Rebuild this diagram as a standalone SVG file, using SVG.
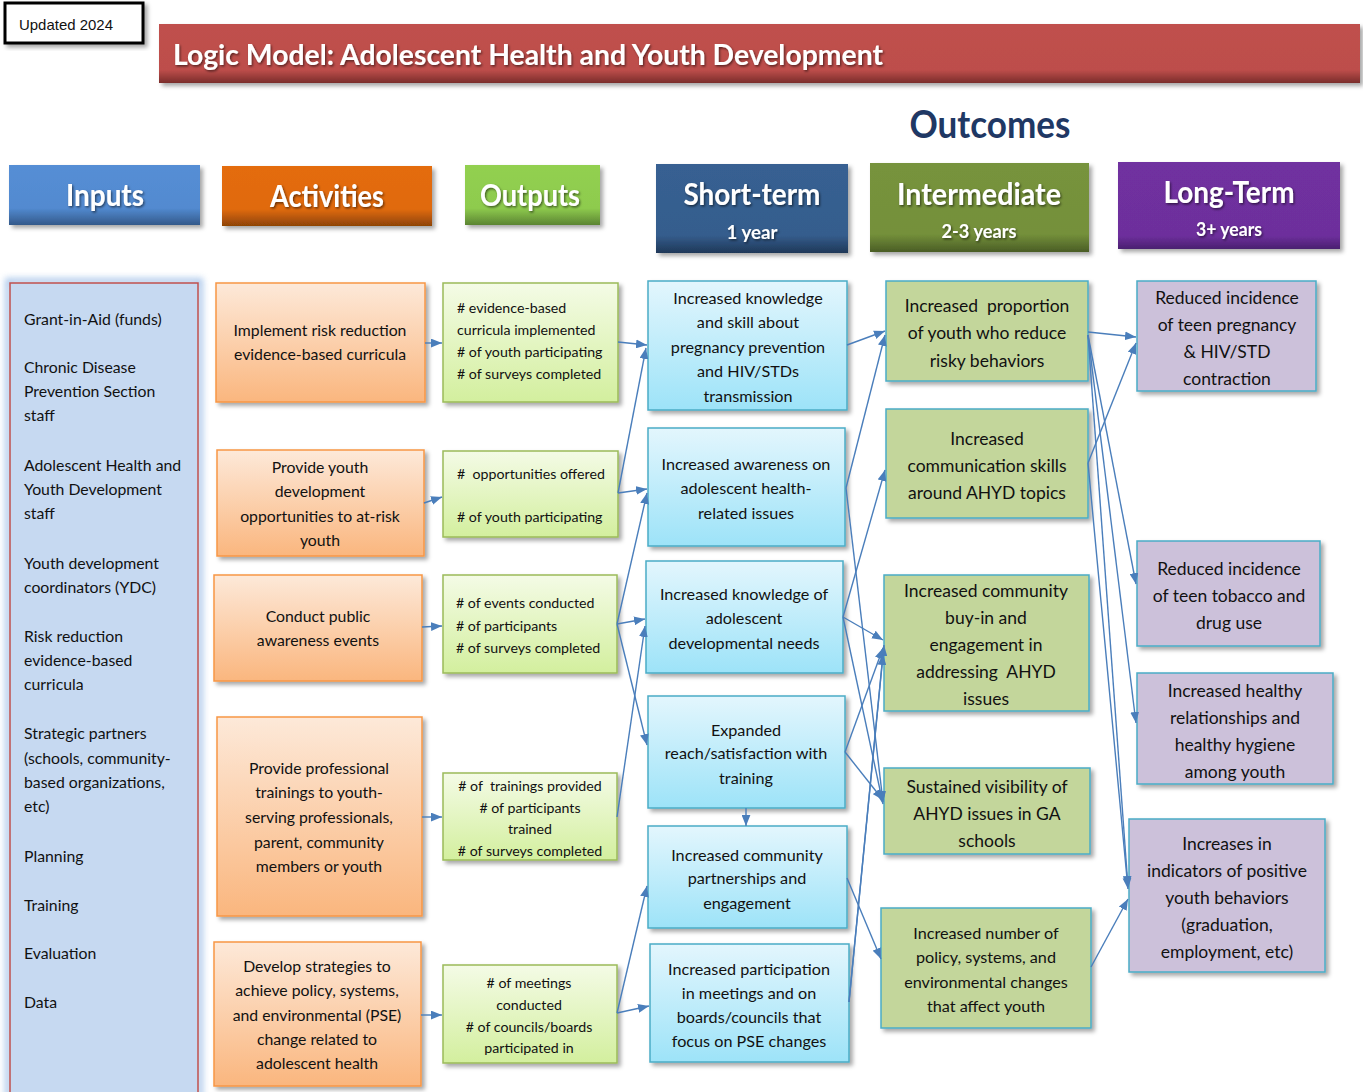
<svg xmlns="http://www.w3.org/2000/svg" width="1363" height="1092" viewBox="0 0 1363 1092">
  <defs>
    <filter id="shadow" x="-10%" y="-10%" width="125%" height="130%">
      <feDropShadow dx="3" dy="3" stdDeviation="2" flood-color="#000" flood-opacity="0.35"/>
    </filter>
    <filter id="txtshadow" x="-10%" y="-20%" width="120%" height="150%">
      <feDropShadow dx="1.2" dy="1.5" stdDeviation="0.8" flood-color="#000" flood-opacity="0.55"/>
    </filter>
    <filter id="glow" x="-20%" y="-5%" width="140%" height="110%">
      <feGaussianBlur stdDeviation="3"/>
    </filter>
    <linearGradient id="gTitle" x1="0" y1="0" x2="0" y2="1">
      <stop offset="0" stop-color="#C0504D"/>
      <stop offset="0.78" stop-color="#BD4E4B"/>
      <stop offset="1" stop-color="#7A2D2B"/>
    </linearGradient>
    <linearGradient id="gIn" x1="0" y1="0" x2="0" y2="1">
      <stop offset="0" stop-color="#558ED5"/>
      <stop offset="0.72" stop-color="#528AD0"/>
      <stop offset="1" stop-color="#34598A"/>
    </linearGradient>
    <linearGradient id="gAct" x1="0" y1="0" x2="0" y2="1">
      <stop offset="0" stop-color="#E46C0A"/>
      <stop offset="0.72" stop-color="#E06A0A"/>
      <stop offset="1" stop-color="#8E4406"/>
    </linearGradient>
    <linearGradient id="gOut" x1="0" y1="0" x2="0" y2="1">
      <stop offset="0" stop-color="#92D050"/>
      <stop offset="0.72" stop-color="#8ECB4E"/>
      <stop offset="1" stop-color="#5B8432"/>
    </linearGradient>
    <linearGradient id="gSt" x1="0" y1="0" x2="0" y2="1">
      <stop offset="0" stop-color="#376092"/>
      <stop offset="0.8" stop-color="#355D8D"/>
      <stop offset="1" stop-color="#1F3858"/>
    </linearGradient>
    <linearGradient id="gInt" x1="0" y1="0" x2="0" y2="1">
      <stop offset="0" stop-color="#77933C"/>
      <stop offset="0.8" stop-color="#74903A"/>
      <stop offset="1" stop-color="#4A5D26"/>
    </linearGradient>
    <linearGradient id="gLt" x1="0" y1="0" x2="0" y2="1">
      <stop offset="0" stop-color="#7030A0"/>
      <stop offset="0.85" stop-color="#6D2F9C"/>
      <stop offset="1" stop-color="#4A2070"/>
    </linearGradient>
    <linearGradient id="gActBox" x1="0" y1="0" x2="0" y2="1">
      <stop offset="0" stop-color="#FDE9D9"/>
      <stop offset="1" stop-color="#FAB67E"/>
    </linearGradient>
    <linearGradient id="gOutBox" x1="0" y1="0" x2="0" y2="1">
      <stop offset="0" stop-color="#F4FBE6"/>
      <stop offset="1" stop-color="#D3EF9E"/>
    </linearGradient>
    <linearGradient id="gStBox" x1="0" y1="0" x2="0" y2="1">
      <stop offset="0" stop-color="#E3F6FD"/>
      <stop offset="1" stop-color="#9DE3F8"/>
    </linearGradient>
    <marker id="arrow" viewBox="0 0 10 8" refX="10" refY="4" markerWidth="11" markerHeight="9" markerUnits="userSpaceOnUse" orient="auto">
      <path d="M0,0 L10,4 L0,8 Z" fill="#4A7EBB"/>
    </marker>
    <style>
      text { font-family: Lato, "Noto Sans", sans-serif; fill: #111111; }
      .hdr { font-weight: bold; fill: #FFFFFF; font-size: 30px; text-anchor: middle; filter: url(#txtshadow); }
      .sub { font-weight: bold; fill: #FFFFFF; font-size: 19px; text-anchor: middle; filter: url(#txtshadow); }
      .inp { font-size: 15.8px; }
      .act { font-size: 15.8px; text-anchor: middle; }
      .out { font-size: 14.2px; }
      .outc { font-size: 14.2px; text-anchor: middle; }
      .st { font-size: 16.2px; text-anchor: middle; }
      .int { font-size: 17.5px; text-anchor: middle; }
      .int5 { font-size: 16.2px; text-anchor: middle; }
      .lt { font-size: 17.5px; text-anchor: middle; }
      .actbox { fill: url(#gActBox); stroke: #F79646; stroke-width: 1.5; filter: url(#shadow); }
      .outbox { fill: url(#gOutBox); stroke: #9BBB59; stroke-width: 1.5; filter: url(#shadow); }
      .stbox { fill: url(#gStBox); stroke: #4BACC6; stroke-width: 1.5; filter: url(#shadow); }
      .intbox { fill: #C3D69B; stroke: #4BACC6; stroke-width: 1.5; filter: url(#shadow); }
      .ltbox { fill: #CCC1DA; stroke: #4BACC6; stroke-width: 1.5; filter: url(#shadow); }
      .hbox { filter: url(#shadow); }
      #connectors path { fill: none; stroke: #4A7EBB; stroke-width: 1.4; marker-end: url(#arrow); }
    </style>
  </defs>

  <rect width="1363" height="1092" fill="#FFFFFF"/>

  <!-- update stamp -->
  <g id="updated">
    <rect x="5" y="3" width="138" height="40" fill="#FFFFFF" stroke="#000" stroke-width="3" filter="url(#shadow)"/>
    <text x="19" y="30" style="font-family:'Liberation Sans', Arial, sans-serif; font-size:15px" textLength="94" lengthAdjust="spacingAndGlyphs">Updated  2024</text>
  </g>

  <!-- title banner -->
  <g id="title">
    <rect x="159" y="24" width="1201" height="59" fill="url(#gTitle)" filter="url(#shadow)"/>
    <text x="173" y="65" style="font-weight:bold; font-size:28px; fill:#FFFFFF" filter="url(#txtshadow)" textLength="710" lengthAdjust="spacingAndGlyphs">Logic Model: Adolescent Health and Youth Development</text>
  </g>

  <g id="outcomes-label">
    <text x="990" y="138" style="font-weight:bold; font-size:38px; fill:#1F3864; text-anchor:middle" textLength="161" lengthAdjust="spacingAndGlyphs">Outcomes</text>
  </g>

  <!-- column headers -->
  <g id="hdr-inputs">
    <rect class="hbox" x="9" y="165" width="191" height="60" fill="url(#gIn)"/>
    <text class="hdr" x="105" y="206" textLength="78" lengthAdjust="spacingAndGlyphs">Inputs</text>
  </g>
  <g id="hdr-activities">
    <rect class="hbox" x="222" y="166" width="210" height="60" fill="url(#gAct)"/>
    <text class="hdr" x="327" y="207" textLength="114" lengthAdjust="spacingAndGlyphs">Activities</text>
  </g>
  <g id="hdr-outputs">
    <rect class="hbox" x="465" y="165" width="135" height="60" fill="url(#gOut)"/>
    <text class="hdr" x="530" y="206" textLength="100" lengthAdjust="spacingAndGlyphs">Outputs</text>
  </g>
  <g id="hdr-short">
    <rect class="hbox" x="656" y="164" width="192" height="89" fill="url(#gSt)"/>
    <text class="hdr" x="752" y="205" textLength="137" lengthAdjust="spacingAndGlyphs">Short-term</text>
    <text class="sub" x="752" y="239" textLength="51" lengthAdjust="spacingAndGlyphs">1 year</text>
  </g>
  <g id="hdr-intermediate">
    <rect class="hbox" x="870" y="163" width="219" height="89" fill="url(#gInt)"/>
    <text class="hdr" x="979" y="205" textLength="164" lengthAdjust="spacingAndGlyphs">Intermediate</text>
    <text class="sub" x="979" y="238" textLength="75" lengthAdjust="spacingAndGlyphs">2-3 years</text>
  </g>
  <g id="hdr-long">
    <rect class="hbox" x="1118" y="162" width="222" height="87" fill="url(#gLt)"/>
    <text class="hdr" x="1229" y="203" textLength="131" lengthAdjust="spacingAndGlyphs">Long-Term</text>
    <text class="sub" x="1229" y="236" textLength="66" lengthAdjust="spacingAndGlyphs">3+ years</text>
  </g>

  <!-- inputs panel -->
  <g id="inputs">
    <rect x="8" y="281" width="192" height="820" fill="none" stroke="#8EB4E3" stroke-width="6" opacity="0.7" filter="url(#glow)"/>
    <rect x="10" y="283" width="188" height="818" fill="#C6D9F1" stroke="#C0504D" stroke-width="1.5"/>
    <text class="inp" x="24" y="325">Grant-in-Aid (funds)</text>
    <text class="inp" x="24" y="373">Chronic Disease</text>
    <text class="inp" x="24" y="397">Prevention Section</text>
    <text class="inp" x="24" y="421">staff</text>
    <text class="inp" x="24" y="471">Adolescent Health and</text>
    <text class="inp" x="24" y="495">Youth Development</text>
    <text class="inp" x="24" y="519">staff</text>
    <text class="inp" x="24" y="569">Youth development</text>
    <text class="inp" x="24" y="593">coordinators (YDC)</text>
    <text class="inp" x="24" y="642">Risk reduction</text>
    <text class="inp" x="24" y="666">evidence-based</text>
    <text class="inp" x="24" y="690">curricula</text>
    <text class="inp" x="24" y="739">Strategic partners</text>
    <text class="inp" x="24" y="764">(schools, community-</text>
    <text class="inp" x="24" y="788">based organizations,</text>
    <text class="inp" x="24" y="812">etc)</text>
    <text class="inp" x="24" y="862">Planning</text>
    <text class="inp" x="24" y="911">Training</text>
    <text class="inp" x="24" y="959">Evaluation</text>
    <text class="inp" x="24" y="1008">Data</text>
  </g>

  <!-- activities -->
  <g id="act-1">
    <rect class="actbox" x="216" y="283" width="209" height="119"/>
    <text class="act" x="320" y="336">Implement risk reduction</text>
    <text class="act" x="320" y="360">evidence-based curricula</text>
  </g>
  <g id="act-2">
    <rect class="actbox" x="217" y="450" width="207" height="106"/>
    <text class="act" x="320" y="473">Provide youth</text>
    <text class="act" x="320" y="497">development</text>
    <text class="act" x="320" y="522">opportunities to at-risk</text>
    <text class="act" x="320" y="546">youth</text>
  </g>
  <g id="act-3">
    <rect class="actbox" x="214" y="575" width="208" height="106"/>
    <text class="act" x="318" y="622">Conduct public</text>
    <text class="act" x="318" y="646">awareness events</text>
  </g>
  <g id="act-4">
    <rect class="actbox" x="217" y="717" width="205" height="199"/>
    <text class="act" x="319" y="774">Provide professional</text>
    <text class="act" x="319" y="798">trainings to youth-</text>
    <text class="act" x="319" y="823">serving professionals,</text>
    <text class="act" x="319" y="848">parent, community</text>
    <text class="act" x="319" y="872">members or youth</text>
  </g>
  <g id="act-5">
    <rect class="actbox" x="214" y="942" width="207" height="144"/>
    <text class="act" x="317" y="972">Develop strategies to</text>
    <text class="act" x="317" y="996">achieve policy, systems,</text>
    <text class="act" x="317" y="1021">and environmental (PSE)</text>
    <text class="act" x="317" y="1045">change related to</text>
    <text class="act" x="317" y="1069">adolescent health</text>
  </g>

  <!-- outputs -->
  <g id="out-1">
    <rect class="outbox" x="443" y="283" width="175" height="119"/>
    <text class="out" x="457" y="313"># evidence-based</text>
    <text class="out" x="457" y="335">curricula implemented</text>
    <text class="out" x="457" y="357"># of youth participating</text>
    <text class="out" x="457" y="379"># of surveys completed</text>
  </g>
  <g id="out-2">
    <rect class="outbox" x="443" y="451" width="175" height="86"/>
    <text class="out" x="457" y="479" xml:space="preserve">#  opportunities offered</text>
    <text class="out" x="457" y="522"># of youth participating</text>
  </g>
  <g id="out-3">
    <rect class="outbox" x="443" y="575" width="174" height="98"/>
    <text class="out" x="456" y="608"># of events conducted</text>
    <text class="out" x="456" y="631"># of participants</text>
    <text class="out" x="456" y="653"># of surveys completed</text>
  </g>
  <g id="out-4">
    <rect class="outbox" x="443" y="773" width="174" height="87"/>
    <text class="outc" x="530" y="791" xml:space="preserve"># of  trainings provided</text>
    <text class="outc" x="530" y="813"># of participants</text>
    <text class="outc" x="530" y="834">trained</text>
    <text class="outc" x="530" y="856"># of surveys completed</text>
  </g>
  <g id="out-5">
    <rect class="outbox" x="443" y="965" width="174" height="98"/>
    <text class="outc" x="529" y="988"># of meetings</text>
    <text class="outc" x="529" y="1010">conducted</text>
    <text class="outc" x="529" y="1032"># of councils/boards</text>
    <text class="outc" x="529" y="1053">participated in</text>
  </g>

  <!-- short-term outcomes -->
  <g id="st-1">
    <rect class="stbox" x="648" y="281" width="199" height="129"/>
    <text class="st" x="748" y="304">Increased knowledge</text>
    <text class="st" x="748" y="328">and skill about</text>
    <text class="st" x="748" y="353">pregnancy prevention</text>
    <text class="st" x="748" y="377">and HIV/STDs</text>
    <text class="st" x="748" y="402">transmission</text>
  </g>
  <g id="st-2">
    <rect class="stbox" x="648" y="428" width="197" height="118"/>
    <text class="st" x="746" y="470">Increased awareness on</text>
    <text class="st" x="746" y="494">adolescent health-</text>
    <text class="st" x="746" y="519">related issues</text>
  </g>
  <g id="st-3">
    <rect class="stbox" x="646" y="561" width="197" height="112"/>
    <text class="st" x="744" y="600">Increased knowledge of</text>
    <text class="st" x="744" y="624">adolescent</text>
    <text class="st" x="744" y="649">developmental needs</text>
  </g>
  <g id="st-4">
    <rect class="stbox" x="648" y="696" width="197" height="112"/>
    <text class="st" x="746" y="736">Expanded</text>
    <text class="st" x="746" y="759">reach/satisfaction with</text>
    <text class="st" x="746" y="784">training</text>
  </g>
  <g id="st-5">
    <rect class="stbox" x="648" y="826" width="199" height="102"/>
    <text class="st" x="747" y="861">Increased community</text>
    <text class="st" x="747" y="884">partnerships and</text>
    <text class="st" x="747" y="909">engagement</text>
  </g>
  <g id="st-6">
    <rect class="stbox" x="650" y="944" width="199" height="118"/>
    <text class="st" x="749" y="975">Increased participation</text>
    <text class="st" x="749" y="999">in meetings and on</text>
    <text class="st" x="749" y="1023">boards/councils that</text>
    <text class="st" x="749" y="1047">focus on PSE changes</text>
  </g>

  <!-- intermediate outcomes -->
  <g id="int-1">
    <rect class="intbox" x="886" y="281" width="202" height="100"/>
    <text class="int" x="987" y="312" xml:space="preserve">Increased  proportion</text>
    <text class="int" x="987" y="339">of youth who reduce</text>
    <text class="int" x="987" y="367">risky behaviors</text>
  </g>
  <g id="int-2">
    <rect class="intbox" x="886" y="409" width="202" height="109"/>
    <text class="int" x="987" y="445">Increased</text>
    <text class="int" x="987" y="472">communication skills</text>
    <text class="int" x="987" y="499">around AHYD topics</text>
  </g>
  <g id="int-3">
    <rect class="intbox" x="884" y="575" width="205" height="136"/>
    <text class="int" x="986" y="597">Increased community</text>
    <text class="int" x="986" y="624">buy-in and</text>
    <text class="int" x="986" y="651">engagement in</text>
    <text class="int" x="986" y="678" xml:space="preserve">addressing  AHYD</text>
    <text class="int" x="986" y="705">issues</text>
  </g>
  <g id="int-4">
    <rect class="intbox" x="884" y="768" width="206" height="86"/>
    <text class="int" x="987" y="793">Sustained visibility of</text>
    <text class="int" x="987" y="820">AHYD issues in GA</text>
    <text class="int" x="987" y="847">schools</text>
  </g>
  <g id="int-5">
    <rect class="intbox" x="881" y="908" width="210" height="120"/>
    <text class="int5" x="986" y="939">Increased number of</text>
    <text class="int5" x="986" y="963">policy, systems, and</text>
    <text class="int5" x="986" y="988">environmental changes</text>
    <text class="int5" x="986" y="1012">that affect youth</text>
  </g>

  <!-- long-term outcomes -->
  <g id="lt-1">
    <rect class="ltbox" x="1137" y="281" width="179" height="110"/>
    <text class="lt" x="1227" y="304">Reduced incidence</text>
    <text class="lt" x="1227" y="331">of teen pregnancy</text>
    <text class="lt" x="1227" y="358">&amp; HIV/STD</text>
    <text class="lt" x="1227" y="385">contraction</text>
  </g>
  <g id="lt-2">
    <rect class="ltbox" x="1137" y="541" width="183" height="105"/>
    <text class="lt" x="1229" y="575">Reduced incidence</text>
    <text class="lt" x="1229" y="602">of teen tobacco and</text>
    <text class="lt" x="1229" y="629">drug use</text>
  </g>
  <g id="lt-3">
    <rect class="ltbox" x="1137" y="673" width="196" height="111"/>
    <text class="lt" x="1235" y="697">Increased healthy</text>
    <text class="lt" x="1235" y="724">relationships and</text>
    <text class="lt" x="1235" y="751">healthy hygiene</text>
    <text class="lt" x="1235" y="778">among youth</text>
  </g>
  <g id="lt-4">
    <rect class="ltbox" x="1129" y="819" width="196" height="153"/>
    <text class="lt" x="1227" y="850">Increases in</text>
    <text class="lt" x="1227" y="877">indicators of positive</text>
    <text class="lt" x="1227" y="904">youth behaviors</text>
    <text class="lt" x="1227" y="931">(graduation,</text>
    <text class="lt" x="1227" y="958">employment, etc)</text>
  </g>

  <!-- connectors -->
  <g id="connectors">
    <!-- activities to outputs -->
    <path d="M425,343 L442,343"/>
    <path d="M424,503 L442,497"/>
    <path d="M422,627 L442,626"/>
    <path d="M422,817 L442,817"/>
    <path d="M421,1015 L442,1015"/>
    <!-- outputs to short-term -->
    <path d="M618,342 L647,345"/>
    <path d="M618,493 L646,348"/>
    <path d="M618,493 L647,489"/>
    <path d="M617,624 L647,493"/>
    <path d="M617,624 L645,619"/>
    <path d="M617,624 L647,745"/>
    <path d="M617,817 L645,626"/>
    <path d="M617,1013 L647,886"/>
    <path d="M617,1013 L649,1006"/>
    <!-- between short-term boxes -->
    <path d="M746,808 L746,826"/>
    <!-- short-term to intermediate -->
    <path d="M847,345 L885,331"/>
    <path d="M846,488 L885,335"/>
    <path d="M846,488 L883,802"/>
    <path d="M843,617 L885,470"/>
    <path d="M843,617 L883,640"/>
    <path d="M843,617 L883,804"/>
    <path d="M845,752 L883,648"/>
    <path d="M845,752 L883,800"/>
    <path d="M849,1002 L884,645"/>
    <path d="M849,1002 L883,654"/>
    <path d="M847,878 L881,959"/>
    <!-- intermediate to long-term -->
    <path d="M1088,332 L1136,337"/>
    <path d="M1088,463 L1136,343"/>
    <path d="M1088,335 L1136,584"/>
    <path d="M1088,335 L1136,723"/>
    <path d="M1088,335 L1128,887"/>
    <path d="M1088,463 L1128,889"/>
    <path d="M1091,967 L1128,899"/>
  </g>
</svg>
